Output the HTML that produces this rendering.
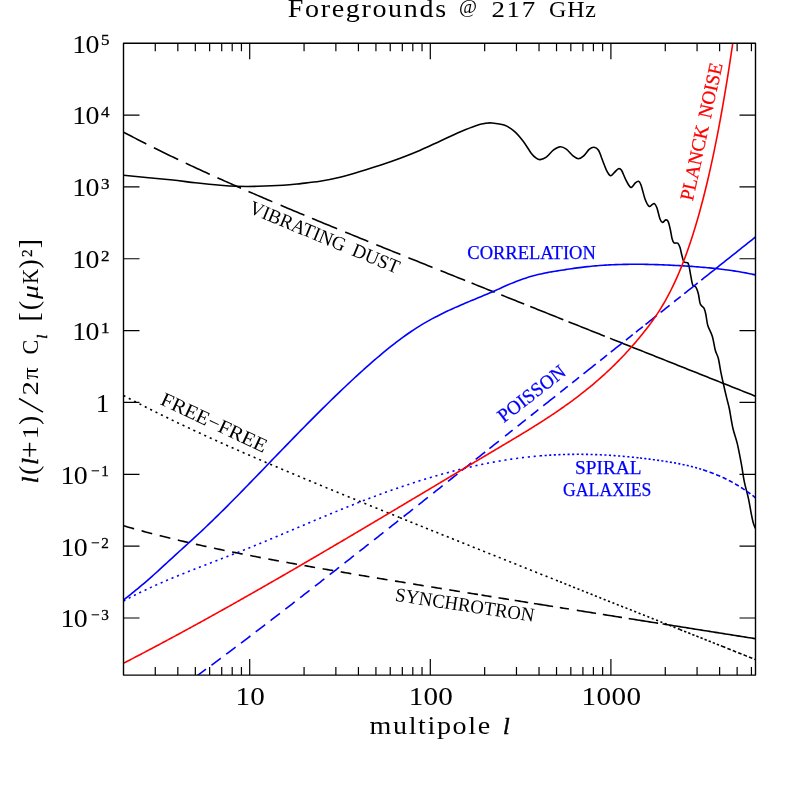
<!DOCTYPE html>
<html><head><meta charset="utf-8"><title>Foregrounds @ 217 GHz</title>
<style>
html,body{margin:0;padding:0;background:#fff;}
body{width:797px;height:797px;overflow:hidden;}
svg{display:block;transform:translateZ(0);will-change:transform;}
text{font-family:"Liberation Serif",serif;fill:#000;}
.t24{font-size:24px;}
.t14{font-size:14.5px;}
.t25{font-size:24.7px;}
.t15{font-size:15.2px;}
.lb{font-size:19.5px;stroke-width:0.25px;}
.lb.bl{stroke:#0000ff;}.lb.rd{stroke:#ff0000;}.lb.bk{stroke:#000;}
.bl{fill:#0000ff;}
.rd{fill:#ff0000;}
.it{font-style:italic;}
.bi{font-style:italic;stroke:#000;stroke-width:0.45px;}
.t28{font-size:28px;}
.sb{stroke:#000;stroke-width:0.3px;}
path{fill:none;stroke-linecap:butt;stroke-linejoin:round;}
</style></head><body>
<svg width="797" height="797" viewBox="0 0 797 797">
<rect width="797" height="797" fill="#fff"/>
<!-- title -->
<text transform="translate(287.70,17.00) scale(1.170,1.06)" class="t24" textLength="135.38" lengthAdjust="spacing">Foregrounds</text>
<text transform="translate(467.9,13.3) scale(1.05,1)" text-anchor="middle" style="font-size:18.6px">@</text>
<text transform="translate(491.40,17.00) scale(1.120,1)" class="t24" textLength="39.11" lengthAdjust="spacing">217</text>
<text transform="translate(549.00,17.00) scale(1.000,1)" class="t24" textLength="47.00" lengthAdjust="spacing">GHz</text>
<!-- curves -->
<defs><clipPath id="cp"><rect x="123.5" y="43.2" width="632" height="631.9"/></clipPath></defs>
<g stroke-width="1.6" clip-path="url(#cp)">
<path d="M123.50 175.30 C131.28 176.05 158.23 178.55 170.20 179.80 C182.17 181.05 186.93 181.88 195.30 182.80 C203.67 183.72 213.50 184.72 220.40 185.30 C227.30 185.88 230.43 186.13 236.70 186.30 C242.97 186.47 250.27 186.47 258.00 186.30 C265.73 186.13 275.98 185.75 283.10 185.30 C290.22 184.85 294.55 184.27 300.70 183.60 C306.85 182.93 313.45 182.35 320.00 181.30 C326.55 180.25 333.32 178.93 340.00 177.30 C346.68 175.67 353.40 173.52 360.10 171.50 C366.80 169.48 373.52 167.42 380.20 165.20 C386.88 162.98 393.52 160.70 400.20 158.20 C406.88 155.70 413.60 153.08 420.30 150.20 C427.00 147.32 433.70 143.98 440.40 140.90 C447.10 137.82 454.48 134.28 460.50 131.70 C466.52 129.12 472.42 126.78 476.50 125.40 C480.58 124.02 482.42 123.80 485.00 123.40 C487.58 123.00 488.82 122.72 492.00 123.00 C495.18 123.28 500.42 123.75 504.10 125.10 C507.78 126.45 510.92 128.42 514.10 131.10 C517.28 133.78 520.35 137.52 523.20 141.20 C526.05 144.88 529.03 150.37 531.20 153.20 C533.37 156.03 534.70 157.13 536.20 158.20 C537.70 159.27 538.52 159.77 540.20 159.60 C541.88 159.43 544.12 158.77 546.30 157.20 C548.48 155.63 550.97 151.93 553.30 150.20 C555.63 148.47 558.13 146.97 560.30 146.80 C562.47 146.63 564.12 147.63 566.30 149.20 C568.48 150.77 571.38 154.60 573.40 156.20 C575.42 157.80 576.73 158.80 578.40 158.80 C580.07 158.80 581.57 157.80 583.40 156.20 C585.23 154.60 587.63 150.70 589.40 149.20 C591.17 147.70 592.48 147.03 594.00 147.20 C595.52 147.37 597.08 148.03 598.50 150.20 C599.92 152.37 601.17 156.85 602.50 160.20 C603.83 163.55 605.17 167.72 606.50 170.30 C607.83 172.88 609.17 175.37 610.50 175.70 C611.83 176.03 613.17 173.47 614.50 172.30 C615.83 171.13 617.33 169.03 618.50 168.70 C619.67 168.37 620.32 168.53 621.50 170.30 C622.68 172.07 624.25 176.63 625.60 179.30 C626.95 181.97 628.60 184.97 629.60 186.30 C630.60 187.63 630.60 187.90 631.60 187.30 C632.60 186.70 634.43 183.70 635.60 182.70 C636.77 181.70 637.68 180.88 638.60 181.30 C639.52 181.72 640.02 182.22 641.10 185.20 C642.18 188.18 643.77 195.68 645.10 199.20 C646.43 202.72 647.93 205.40 649.10 206.30 C650.27 207.20 651.22 205.05 652.10 204.60 C652.98 204.15 653.60 203.07 654.40 203.60 C655.20 204.13 655.97 205.23 656.90 207.80 C657.83 210.37 659.07 216.57 660.00 219.00 C660.93 221.43 661.55 222.25 662.50 222.40 C663.45 222.55 664.75 220.03 665.70 219.90 C666.65 219.77 667.42 219.92 668.20 221.60 C668.98 223.28 669.75 227.13 670.40 230.00 C671.05 232.87 671.50 236.65 672.10 238.80 C672.70 240.95 673.07 242.17 674.00 242.90 C674.93 243.63 676.70 242.42 677.70 243.20 C678.70 243.98 679.27 245.42 680.00 247.60 C680.73 249.78 681.43 253.90 682.10 256.30 C682.77 258.70 683.05 260.90 684.00 262.00 C684.95 263.10 686.92 261.97 687.80 262.90 C688.68 263.83 688.78 265.35 689.30 267.60 C689.82 269.85 690.32 273.47 690.90 276.40 C691.48 279.33 691.97 283.42 692.80 285.20 C693.63 286.98 694.97 285.63 695.90 287.10 C696.83 288.57 697.67 291.18 698.40 294.00 C699.13 296.82 699.35 301.60 700.30 304.00 C701.25 306.40 703.15 306.52 704.10 308.40 C705.05 310.28 705.38 312.47 706.00 315.30 C706.62 318.13 706.75 321.92 707.80 325.40 C708.85 328.88 711.05 332.05 712.30 336.20 C713.55 340.35 714.30 346.62 715.30 350.30 C716.30 353.98 717.37 354.62 718.30 358.30 C719.23 361.98 720.07 368.22 720.90 372.40 C721.73 376.58 722.40 379.40 723.30 383.40 C724.20 387.40 725.30 392.22 726.30 396.40 C727.30 400.58 728.45 404.48 729.30 408.50 C730.15 412.52 730.72 416.87 731.40 420.50 C732.08 424.13 732.40 426.37 733.40 430.30 C734.40 434.23 736.07 438.45 737.40 444.10 C738.73 449.75 740.23 457.85 741.40 464.20 C742.57 470.55 743.23 476.52 744.40 482.20 C745.57 487.88 747.23 492.93 748.40 498.30 C749.57 503.67 750.57 510.22 751.40 514.40 C752.23 518.58 752.72 521.07 753.40 523.40 C754.08 525.73 755.15 527.57 755.50 528.40" stroke="#000"/>
<path d="M123.50 132.12 L125.50 133.18 L127.50 134.23 L129.50 135.28 L131.50 136.32 L133.50 137.37 L135.50 138.40 L137.50 139.43 L139.50 140.46 L141.50 141.49 L143.50 142.51 L145.50 143.52 L146.30 143.93 M153.90 147.75 L155.50 148.54 L157.50 149.53 L159.50 150.52 L161.50 151.51 L163.50 152.49 L165.50 153.47 L167.50 154.44 L169.50 155.41 L171.50 156.38 L173.50 157.34 L175.50 158.30 L177.50 159.26 L178.20 159.59 M185.70 163.15 L187.50 164.00 L189.50 164.93 L191.50 165.87 L193.50 166.80 L195.50 167.73 L197.50 168.66 L199.50 169.58 L201.50 170.50 L203.50 171.42 L205.50 172.34 L207.50 173.25 L209.50 174.16 L209.80 174.30 M217.40 177.73 L217.50 177.78 L219.50 178.68 L221.50 179.58 L223.50 180.47 L225.50 181.36 L227.50 182.25 L229.50 183.14 L231.50 184.03 L233.50 184.91 L235.50 185.79 L237.50 186.67 L239.50 187.55 L241.00 188.21 M248.50 191.48 L249.50 191.91 L251.50 192.78 L253.50 193.64 L255.50 194.51 L257.50 195.37 L259.50 196.23 L261.50 197.09 L263.50 197.95 L265.50 198.81 L267.50 199.66 L269.50 200.51 L271.50 201.37 L272.30 201.71 M280.60 205.23 L281.50 205.61 L283.50 206.45 L285.50 207.30 L287.50 208.14 L289.50 208.98 L291.50 209.82 L293.50 210.66 L295.50 211.50 L297.50 212.34 L299.50 213.17 L301.50 214.01 L303.50 214.84 L304.40 215.22 M312.00 218.38 L313.50 219.00 L315.50 219.83 L317.50 220.66 L319.50 221.49 L321.50 222.31 L323.50 223.14 L325.50 223.96 L327.50 224.79 L329.50 225.61 L331.50 226.43 L333.50 227.26 L335.50 228.08 L337.10 228.74 M345.20 232.06 L345.50 232.18 L347.50 233.00 L349.50 233.81 L351.50 234.63 L353.50 235.45 L355.50 236.26 L357.50 237.08 L359.50 237.89 L361.50 238.71 L363.50 239.52 L365.50 240.34 L367.50 241.15 L368.30 241.48 M376.30 244.72 L377.50 245.21 L379.50 246.02 L381.50 246.83 L383.50 247.64 L385.50 248.45 L387.50 249.26 L389.50 250.07 L391.50 250.88 L393.50 251.69 L395.50 252.49 L397.50 253.30 L399.50 254.11 L400.40 254.47 M408.40 257.70 L409.50 258.14 L411.50 258.95 L413.50 259.75 L415.50 260.56 L417.50 261.36 L419.50 262.17 L421.50 262.97 L423.50 263.78 L425.50 264.58 L427.50 265.39 L429.50 266.19 L431.50 266.99 L432.50 267.40 M440.50 270.61 L441.50 271.01 L443.50 271.81 L445.50 272.61 L447.50 273.42 L449.50 274.22 L451.50 275.02 L453.50 275.82 L455.50 276.62 L457.50 277.42 L459.50 278.22 L461.50 279.03 L463.50 279.83 L465.10 280.47 M471.60 283.07 L473.50 283.83 L475.50 284.63 L477.50 285.43 L479.50 286.23 L481.50 287.03 L483.50 287.83 L485.50 288.63 L487.50 289.43 L489.50 290.23 L491.50 291.03 L493.50 291.83 L494.70 292.31 M501.20 294.90 L501.50 295.02 L503.50 295.82 L505.50 296.62 L507.50 297.42 L509.50 298.22 L511.50 299.02 L513.50 299.81 L515.50 300.61 L517.50 301.41 L519.50 302.21 L521.50 303.01 L523.50 303.81 L524.20 304.09 M530.20 306.48 L531.50 307.00 L533.50 307.80 L535.50 308.59 L537.50 309.39 L539.50 310.19 L541.50 310.99 L543.50 311.78 L545.50 312.58 L547.50 313.38 L549.50 314.18 L551.50 314.97 L553.50 315.77 L555.50 316.57 L557.50 317.37 L559.50 318.16 L561.50 318.96 L563.30 319.68 M568.50 321.75 L569.50 322.15 L571.50 322.95 L573.50 323.74 L575.50 324.54 L577.50 325.34 L579.50 326.13 L581.50 326.93 L583.50 327.73 L585.50 328.52 L587.50 329.32 L589.50 330.12 L591.50 330.91 L593.50 331.71 L595.50 332.51 L597.50 333.30 L599.50 334.10 L601.50 334.90 L603.50 335.69 L604.80 336.21 M610.10 338.32 L611.50 338.88 L613.50 339.68 L615.50 340.47 L617.50 341.27 L619.50 342.07 L621.50 342.86 L623.50 343.66 L625.50 344.45 L627.50 345.25 L629.50 346.05 L631.50 346.84 L633.50 347.64 L635.50 348.44 L637.50 349.23 L639.50 350.03 L641.50 350.83 L643.50 351.62 L645.50 352.42 L647.50 353.21 L649.50 354.01 L651.50 354.81 L653.50 355.60 L655.50 356.40 L657.50 357.19 L659.50 357.99 L661.50 358.79 L663.50 359.58 L665.50 360.38 L667.50 361.17 L669.50 361.97 L671.50 362.77 L673.50 363.56 L675.50 364.36 L677.50 365.16 L679.50 365.95 L681.50 366.75 L683.50 367.54 L685.50 368.34 L687.50 369.14 L689.50 369.93 L691.50 370.73 L693.50 371.52 L695.50 372.32 L697.50 373.11 L699.50 373.91 L701.50 374.71 L703.50 375.50 L705.50 376.30 L707.50 377.09 L709.50 377.89 L711.50 378.69 L713.50 379.48 L715.50 380.28 L717.50 381.07 L719.50 381.87 L721.50 382.67 L723.50 383.46 L725.50 384.26 L727.50 385.05 L729.50 385.85 L731.50 386.65 L733.50 387.44 L735.50 388.24 L737.50 389.03 L739.50 389.83 L741.50 390.62 L743.50 391.42 L745.50 392.22 L747.50 393.01 L749.50 393.81 L751.50 394.60 L753.50 395.40 L755.50 396.20 " stroke="#000"/>
<path d="M123.50 525.75 L125.50 526.33 L127.50 526.91 L129.50 527.48 L131.50 528.05 L133.50 528.61 L134.10 528.78 M141.60 530.85 L143.50 531.36 L145.50 531.90 L147.50 532.43 L149.50 532.96 L151.50 533.49 L152.20 533.67 M159.70 535.60 L161.50 536.06 L163.50 536.56 L165.50 537.06 L167.50 537.55 L169.50 538.05 L170.30 538.24 M177.80 540.05 L179.50 540.46 L181.50 540.93 L183.50 541.40 L185.50 541.86 L187.50 542.33 L188.40 542.53 M195.90 544.24 L197.50 544.60 L199.50 545.04 L201.50 545.49 L203.50 545.93 L205.50 546.36 L206.50 546.58 M214.00 548.20 L215.50 548.51 L217.50 548.94 L219.50 549.36 L221.50 549.78 L223.50 550.19 L224.60 550.42 M232.10 551.96 L233.50 552.24 L235.50 552.64 L237.50 553.05 L239.50 553.45 L241.50 553.84 L242.70 554.08 M250.20 555.55 L251.50 555.81 L253.50 556.19 L255.50 556.58 L257.50 556.96 L259.50 557.35 L260.80 557.59 M268.30 559.01 L269.50 559.24 L271.50 559.61 L273.50 559.98 L275.50 560.36 L277.50 560.73 L278.90 560.98 M286.40 562.36 L287.50 562.56 L289.50 562.92 L291.50 563.28 L293.50 563.64 L295.50 564.00 L297.00 564.27 M304.50 565.61 L305.50 565.79 L307.50 566.14 L309.50 566.50 L311.50 566.85 L313.50 567.20 L315.10 567.48 M322.60 568.79 L323.50 568.95 L325.50 569.29 L327.50 569.64 L329.50 569.99 L331.50 570.33 L333.20 570.62 M340.70 571.91 L341.50 572.04 L343.50 572.39 L345.50 572.73 L347.50 573.07 L349.50 573.41 L351.30 573.71 M358.80 574.98 L359.50 575.09 L361.50 575.43 L363.50 575.77 L365.50 576.10 L367.50 576.44 L369.40 576.75 M376.90 578.01 L377.50 578.11 L379.50 578.44 L381.50 578.77 L383.50 579.10 L385.50 579.43 L387.50 579.76 L387.50 579.76 M395.00 581.00 L395.50 581.09 L397.50 581.41 L399.50 581.74 L401.50 582.07 L403.50 582.40 L405.50 582.73 L405.60 582.75 M413.10 583.97 L413.50 584.04 L415.50 584.37 L417.50 584.69 L419.50 585.02 L421.50 585.35 L423.50 585.67 L423.70 585.71 M431.20 586.93 L431.50 586.98 L433.50 587.30 L435.50 587.63 L437.50 587.95 L439.50 588.27 L441.50 588.60 L441.80 588.65 M449.30 589.86 L449.50 589.89 L451.50 590.22 L453.50 590.54 L455.50 590.86 L457.50 591.19 L459.50 591.51 L459.90 591.58 M467.40 592.78 L467.50 592.80 L469.50 593.12 L471.50 593.45 L473.50 593.77 L475.50 594.09 L477.50 594.41 L478.00 594.49 M481.50 595.05 L483.50 595.38 L485.50 595.70 L487.50 596.02 L489.50 596.34 L491.50 596.66 M498.50 597.78 L499.50 597.94 L501.50 598.26 L503.50 598.59 L505.50 598.91 L507.50 599.23 L509.00 599.47 M514.70 600.38 L515.50 600.51 L517.50 600.83 L519.50 601.15 L521.50 601.47 L523.50 601.79 L525.50 602.11 L527.50 602.43 L528.20 602.54 M533.90 603.45 L535.50 603.70 L537.50 604.02 L539.50 604.34 L541.50 604.66 L543.50 604.98 L545.50 605.30 L547.50 605.62 L549.50 605.94 L551.50 606.26 L553.10 606.51 M559.80 607.58 L561.50 607.85 L563.50 608.17 L565.50 608.49 L567.50 608.81 L568.90 609.03 M576.80 610.29 L577.50 610.40 L579.50 610.72 L581.50 611.04 L583.50 611.36 L585.50 611.68 L587.50 612.00 L589.50 612.31 L591.50 612.63 L593.50 612.95 L595.50 613.27 L596.00 613.35 M602.80 614.43 L603.50 614.54 L605.50 614.86 L607.50 615.18 L609.50 615.50 L611.50 615.82 L613.50 616.13 L615.50 616.45 L617.50 616.77 L619.50 617.09 L621.50 617.41 L622.00 617.49 M628.70 618.55 L629.50 618.68 L631.50 619.00 L633.50 619.32 L635.50 619.63 L637.50 619.95 L639.50 620.27 L641.50 620.59 L643.50 620.91 L645.50 621.22 L647.50 621.54 L649.50 621.86 L651.50 622.18 L653.50 622.49 L655.50 622.81 L657.50 623.13 L658.10 623.23 M662.60 623.94 L663.50 624.08 L665.50 624.40 L667.50 624.72 L669.50 625.04 L671.50 625.35 L673.50 625.67 L675.50 625.99 L677.50 626.31 L679.50 626.63 L681.50 626.94 L683.50 627.26 L685.50 627.58 L687.50 627.90 L689.50 628.21 L691.50 628.53 L693.50 628.85 L695.50 629.17 L697.50 629.49 L699.50 629.80 L701.50 630.12 L703.50 630.44 L705.50 630.76 L707.50 631.07 L709.50 631.39 L711.50 631.71 L713.50 632.03 L715.50 632.34 L717.50 632.66 L719.50 632.98 L721.50 633.30 L723.50 633.61 L725.50 633.93 L727.50 634.25 L729.50 634.57 L731.50 634.88 L733.50 635.20 L735.50 635.52 L737.50 635.84 L739.50 636.15 L741.50 636.47 L743.50 636.79 L745.50 637.11 L747.50 637.42 L749.50 637.74 L751.50 638.06 L753.50 638.38 L755.50 638.70 " stroke="#000"/>
<path d="M123.50 395.52 L125.50 396.58 L127.50 397.63 L129.50 398.68 L131.50 399.72 L133.50 400.77 L135.50 401.80 L137.50 402.83 L139.50 403.86 L141.50 404.89 L143.50 405.91 L145.50 406.92 L147.50 407.93 L149.50 408.94 L151.50 409.95 L153.50 410.95 L155.50 411.94 L157.50 412.93 L159.50 413.92 L161.50 414.91 L163.50 415.89 L165.50 416.87 L167.50 417.84 L169.50 418.81 L171.50 419.78 L173.50 420.74 L175.50 421.70 L177.50 422.66 L179.50 423.61 L181.50 424.56 L183.50 425.51 L185.50 426.45 L187.50 427.40 L189.50 428.33 L191.50 429.27 L193.50 430.20 L195.50 431.13 L197.50 432.06 L199.50 432.98 L201.50 433.90 L203.50 434.82 L205.50 435.74 L207.50 436.65 L209.50 437.56 L211.50 438.47 L213.50 439.38 L215.50 440.28 L217.50 441.18 L219.50 442.08 L221.50 442.98 L223.50 443.87 L225.50 444.76 L227.50 445.65 L229.50 446.54 L231.50 447.43 L233.50 448.31 L235.50 449.19 L237.50 450.07 L239.50 450.95 L241.50 451.82 L243.50 452.70 L245.50 453.57 L247.50 454.44 L249.50 455.31 L251.50 456.18 L253.50 457.04 L255.50 457.91 L257.50 458.77 L259.50 459.63 L261.50 460.49 L263.50 461.35 L265.50 462.21 L267.50 463.06 L269.50 463.91 L271.50 464.77 L273.50 465.62 L275.50 466.47 L277.50 467.32 L279.50 468.16 L281.50 469.01 L283.50 469.85 L285.50 470.70 L287.50 471.54 L289.50 472.38 L291.50 473.22 L293.50 474.06 L295.50 474.90 L297.50 475.74 L299.50 476.57 L301.50 477.41 L303.50 478.24 L305.50 479.08 L307.50 479.91 L309.50 480.74 L311.50 481.57 L313.50 482.40 L315.50 483.23 L317.50 484.06 L319.50 484.89 L321.50 485.71 L323.50 486.54 L325.50 487.36 L327.50 488.19 L329.50 489.01 L331.50 489.83 L333.50 490.66 L335.50 491.48 L337.50 492.30 L339.50 493.12 L341.50 493.94 L343.50 494.76 L345.50 495.58 L347.50 496.40 L349.50 497.21 L351.50 498.03 L353.50 498.85 L355.50 499.66 L357.50 500.48 L359.50 501.29 L361.50 502.11 L363.50 502.92 L365.50 503.74 L367.50 504.55 L369.50 505.36 L371.50 506.18 L373.50 506.99 L375.50 507.80 L377.50 508.61 L379.50 509.42 L381.50 510.23 L383.50 511.04 L385.50 511.85 L387.50 512.66 L389.50 513.47 L391.50 514.28 L393.50 515.09 L395.50 515.89 L397.50 516.70 L399.50 517.51 L400.00 517.71" stroke="#000" stroke-dasharray="2.1 3.9"/>
<path d="M400.00 517.71 L401.50 518.32 L403.50 519.12 L405.50 519.93 L407.50 520.74 L409.50 521.54 L411.50 522.35 L413.50 523.15 L415.50 523.96 L417.50 524.76 L419.50 525.57 L421.50 526.37 L423.50 527.18 L425.50 527.98 L427.50 528.79 L429.50 529.59 L431.50 530.39 L433.50 531.20 L435.50 532.00 L437.50 532.80 L439.50 533.61 L441.50 534.41 L443.50 535.21 L445.50 536.01 L447.50 536.82 L449.50 537.62 L451.50 538.42 L453.50 539.22 L455.50 540.02 L457.50 540.82 L459.50 541.62 L461.50 542.43 L463.50 543.23 L465.50 544.03 L467.50 544.83 L469.50 545.63 L471.50 546.43 L473.50 547.23 L475.50 548.03 L477.50 548.83 L479.50 549.63 L481.50 550.43 L483.50 551.23 L485.50 552.03 L487.50 552.83 L489.50 553.63 L491.50 554.43 L493.50 555.23 L495.50 556.03 L497.50 556.82 L499.50 557.62 L501.50 558.42 L503.50 559.22 L505.50 560.02 L507.50 560.82 L509.50 561.62 L511.50 562.42 L513.50 563.21 L515.50 564.01 L517.50 564.81 L519.50 565.61 L521.50 566.41 L523.50 567.21 L525.50 568.00 L527.50 568.80 L529.50 569.60 L531.50 570.40 L533.50 571.20 L535.50 571.99 L537.50 572.79 L539.50 573.59 L541.50 574.39 L543.50 575.18 L545.50 575.98 L547.50 576.78 L549.50 577.58 L551.50 578.37 L553.50 579.17 L555.50 579.97 L557.50 580.77 L559.50 581.56 L560.00 581.76" stroke="#000" stroke-dasharray="2.1 3.5"/>
<path d="M560.00 581.76 L561.50 582.36 L563.50 583.16 L565.50 583.95 L567.50 584.75 L569.50 585.55 L571.50 586.35 L573.50 587.14 L575.50 587.94 L577.50 588.74 L579.50 589.53 L581.50 590.33 L583.50 591.13 L585.50 591.92 L587.50 592.72 L589.50 593.52 L591.50 594.31 L593.50 595.11 L595.50 595.91 L597.50 596.70 L599.50 597.50 L601.50 598.30 L603.50 599.09 L605.50 599.89 L607.50 600.69 L609.50 601.48 L611.50 602.28 L613.50 603.08 L615.50 603.87 L617.50 604.67 L619.50 605.47 L621.50 606.26 L623.50 607.06 L625.50 607.85 L627.50 608.65 L629.50 609.45 L631.50 610.24 L633.50 611.04 L635.50 611.84 L637.50 612.63 L639.50 613.43 L641.50 614.23 L643.50 615.02 L645.50 615.82 L647.50 616.61 L649.50 617.41 L651.50 618.21 L653.50 619.00 L655.50 619.80 L657.50 620.59 L659.50 621.39 L661.50 622.19 L663.50 622.98 L665.50 623.78 L667.50 624.57 L669.50 625.37 L671.50 626.17 L673.50 626.96 L675.50 627.76 L677.50 628.56 L679.50 629.35 L680.00 629.55" stroke="#000" stroke-dasharray="2.1 2.6"/>
<path d="M680.00 629.55 L681.50 630.15 L683.50 630.94 L685.50 631.74 L687.50 632.54 L689.50 633.33 L691.50 634.13 L693.50 634.92 L695.50 635.72 L697.50 636.51 L699.50 637.31 L701.50 638.11 L703.50 638.90 L705.50 639.70 L707.50 640.49 L709.50 641.29 L711.50 642.09 L713.50 642.88 L715.50 643.68 L717.50 644.47 L719.50 645.27 L721.50 646.07 L722.00 646.26" stroke="#000" stroke-dasharray="2.4 2.0"/>
<path d="M722.00 646.26 L723.50 646.86 L725.50 647.66 L727.50 648.45 L729.50 649.25 L731.50 650.05 L733.50 650.84 L735.50 651.64 L737.50 652.43 L739.50 653.23 L741.50 654.02 L743.50 654.82 L745.50 655.62 L747.50 656.41 L749.50 657.21 L751.50 658.00 L753.50 658.80 L755.50 659.60" stroke="#000" stroke-dasharray="3.6 2.2"/>

<path d="M123.50 599.93 C124.17 599.42 126.17 597.90 127.50 596.86 C128.83 595.82 130.17 594.77 131.50 593.71 C132.83 592.64 134.17 591.56 135.50 590.48 C136.83 589.39 138.17 588.29 139.50 587.17 C140.83 586.06 142.17 584.93 143.50 583.80 C144.83 582.66 146.17 581.51 147.50 580.35 C148.83 579.19 150.17 578.02 151.50 576.83 C152.83 575.65 154.17 574.46 155.50 573.25 C156.83 572.05 158.17 570.83 159.50 569.61 C160.83 568.39 162.17 567.16 163.50 565.93 C164.83 564.70 166.17 563.47 167.50 562.24 C168.83 561.02 170.17 559.79 171.50 558.57 C172.83 557.35 174.17 556.13 175.50 554.92 C176.83 553.70 178.17 552.49 179.50 551.28 C180.83 550.07 182.17 548.86 183.50 547.65 C184.83 546.44 186.17 545.23 187.50 544.02 C188.83 542.80 190.17 541.59 191.50 540.37 C192.83 539.15 194.17 537.92 195.50 536.69 C196.83 535.46 198.17 534.23 199.50 532.98 C200.83 531.74 202.17 530.49 203.50 529.23 C204.83 527.97 206.17 526.70 207.50 525.42 C208.83 524.15 210.17 522.87 211.50 521.58 C212.83 520.29 214.17 518.99 215.50 517.69 C216.83 516.39 218.17 515.08 219.50 513.77 C220.83 512.45 222.17 511.13 223.50 509.81 C224.83 508.48 226.17 507.15 227.50 505.82 C228.83 504.48 230.17 503.14 231.50 501.80 C232.83 500.46 234.17 499.11 235.50 497.75 C236.83 496.40 238.17 495.05 239.50 493.69 C240.83 492.33 242.17 490.96 243.50 489.60 C244.83 488.23 246.17 486.86 247.50 485.49 C248.83 484.12 250.17 482.74 251.50 481.37 C252.83 479.99 254.17 478.62 255.50 477.24 C256.83 475.86 258.17 474.48 259.50 473.09 C260.83 471.71 262.17 470.33 263.50 468.94 C264.83 467.56 266.17 466.18 267.50 464.79 C268.83 463.41 270.17 462.02 271.50 460.64 C272.83 459.26 274.17 457.87 275.50 456.49 C276.83 455.11 278.17 453.72 279.50 452.34 C280.83 450.96 282.17 449.58 283.50 448.21 C284.83 446.83 286.17 445.45 287.50 444.08 C288.83 442.70 290.17 441.33 291.50 439.96 C292.83 438.59 294.17 437.22 295.50 435.86 C296.83 434.49 298.17 433.13 299.50 431.77 C300.83 430.41 302.17 429.05 303.50 427.70 C304.83 426.34 306.17 424.99 307.50 423.64 C308.83 422.29 310.17 420.95 311.50 419.61 C312.83 418.27 314.17 416.93 315.50 415.59 C316.83 414.26 318.17 412.93 319.50 411.60 C320.83 410.28 322.17 408.96 323.50 407.64 C324.83 406.32 326.17 405.01 327.50 403.70 C328.83 402.40 330.17 401.09 331.50 399.79 C332.83 398.50 334.17 397.20 335.50 395.91 C336.83 394.63 338.17 393.34 339.50 392.07 C340.83 390.79 342.17 389.52 343.50 388.25 C344.83 386.99 346.17 385.73 347.50 384.48 C348.83 383.22 350.17 381.97 351.50 380.73 C352.83 379.49 354.17 378.26 355.50 377.03 C356.83 375.80 358.17 374.58 359.50 373.37 C360.83 372.15 362.17 370.95 363.50 369.75 C364.83 368.55 366.17 367.36 367.50 366.17 C368.83 364.99 370.17 363.82 371.50 362.65 C372.83 361.49 374.17 360.33 375.50 359.19 C376.83 358.04 378.17 356.90 379.50 355.78 C380.83 354.65 382.17 353.54 383.50 352.44 C384.83 351.34 386.17 350.24 387.50 349.17 C388.83 348.09 390.17 347.02 391.50 345.97 C392.83 344.92 394.17 343.88 395.50 342.85 C396.83 341.83 398.17 340.82 399.50 339.82 C400.83 338.82 402.17 337.84 403.50 336.88 C404.83 335.91 406.17 334.96 407.50 334.03 C408.83 333.09 410.17 332.17 411.50 331.27 C412.83 330.37 414.17 329.49 415.50 328.62 C416.83 327.76 418.17 326.91 419.50 326.08 C420.83 325.25 422.17 324.44 423.50 323.65 C424.83 322.86 426.17 322.09 427.50 321.33 C428.83 320.57 430.17 319.83 431.50 319.10 C432.83 318.38 434.17 317.67 435.50 316.97 C436.83 316.27 438.17 315.59 439.50 314.92 C440.83 314.25 442.17 313.59 443.50 312.94 C444.83 312.29 446.17 311.66 447.50 311.03 C448.83 310.41 450.17 309.79 451.50 309.19 C452.83 308.58 454.17 307.98 455.50 307.39 C456.83 306.80 458.17 306.22 459.50 305.65 C460.83 305.07 462.17 304.50 463.50 303.93 C464.83 303.37 466.17 302.81 467.50 302.25 C468.83 301.69 470.17 301.14 471.50 300.59 C472.83 300.03 474.17 299.48 475.50 298.93 C476.83 298.38 478.17 297.83 479.50 297.28 C480.83 296.72 482.17 296.17 483.50 295.61 C484.83 295.05 486.17 294.49 487.50 293.92 C488.83 293.35 490.17 292.78 491.50 292.20 C492.83 291.62 494.17 291.03 495.50 290.44 C496.83 289.85 498.17 289.25 499.50 288.65 C500.83 288.05 502.17 287.45 503.50 286.85 C504.83 286.26 506.17 285.66 507.50 285.08 C508.83 284.50 510.17 283.93 511.50 283.37 C512.83 282.81 514.17 282.27 515.50 281.74 C516.83 281.22 518.17 280.71 519.50 280.21 C520.83 279.72 522.17 279.24 523.50 278.78 C524.83 278.33 526.17 277.89 527.50 277.47 C528.83 277.06 530.17 276.66 531.50 276.28 C532.83 275.91 534.17 275.56 535.50 275.22 C536.83 274.88 538.17 274.57 539.50 274.26 C540.83 273.96 542.17 273.68 543.50 273.40 C544.83 273.13 546.17 272.87 547.50 272.62 C548.83 272.36 550.17 272.13 551.50 271.89 C552.83 271.66 554.17 271.43 555.50 271.21 C556.83 270.99 558.17 270.77 559.50 270.56 C560.83 270.34 562.17 270.13 563.50 269.92 C564.83 269.71 566.17 269.50 567.50 269.30 C568.83 269.09 570.17 268.89 571.50 268.69 C572.83 268.50 574.17 268.31 575.50 268.12 C576.83 267.94 578.17 267.76 579.50 267.59 C580.83 267.42 582.17 267.25 583.50 267.10 C584.83 266.94 586.17 266.79 587.50 266.65 C588.83 266.51 590.17 266.37 591.50 266.25 C592.83 266.12 594.17 266.00 595.50 265.88 C596.83 265.77 598.17 265.66 599.50 265.56 C600.83 265.46 602.17 265.36 603.50 265.28 C604.83 265.19 606.17 265.11 607.50 265.03 C608.83 264.95 610.17 264.88 611.50 264.82 C612.83 264.76 614.17 264.70 615.50 264.65 C616.83 264.59 618.17 264.55 619.50 264.51 C620.83 264.47 622.17 264.43 623.50 264.40 C624.83 264.37 626.17 264.35 627.50 264.33 C628.83 264.31 630.17 264.29 631.50 264.28 C632.83 264.27 634.17 264.27 635.50 264.26 C636.83 264.26 638.17 264.27 639.50 264.28 C640.83 264.29 642.17 264.30 643.50 264.32 C644.83 264.33 646.17 264.35 647.50 264.38 C648.83 264.41 650.17 264.44 651.50 264.47 C652.83 264.50 654.17 264.54 655.50 264.58 C656.83 264.62 658.17 264.67 659.50 264.71 C660.83 264.76 662.17 264.81 663.50 264.87 C664.83 264.92 666.17 264.98 667.50 265.04 C668.83 265.10 670.17 265.17 671.50 265.23 C672.83 265.30 674.17 265.37 675.50 265.44 C676.83 265.51 678.17 265.59 679.50 265.66 C680.83 265.74 682.17 265.82 683.50 265.90 C684.83 265.98 686.17 266.07 687.50 266.16 C688.83 266.24 690.17 266.33 691.50 266.42 C692.83 266.52 694.17 266.61 695.50 266.71 C696.83 266.81 698.17 266.92 699.50 267.02 C700.83 267.13 702.17 267.24 703.50 267.36 C704.83 267.47 706.17 267.59 707.50 267.71 C708.83 267.84 710.17 267.97 711.50 268.10 C712.83 268.24 714.17 268.37 715.50 268.52 C716.83 268.66 718.17 268.81 719.50 268.97 C720.83 269.13 722.17 269.29 723.50 269.46 C724.83 269.62 726.17 269.80 727.50 269.98 C728.83 270.16 730.17 270.35 731.50 270.54 C732.83 270.74 734.17 270.94 735.50 271.15 C736.83 271.36 738.17 271.57 739.50 271.80 C740.83 272.02 742.17 272.26 743.50 272.50 C744.83 272.74 746.17 272.99 747.50 273.24 C748.83 273.50 750.17 273.77 751.50 274.04 C752.83 274.32 754.83 274.75 755.50 274.89" stroke="#0000ff"/>
<path d="M196.60 676.10 L198.00 675.08 L200.00 673.61 L202.00 672.15 L204.00 670.68 L206.00 669.21 M211.39 665.23 L212.00 664.78 L214.00 663.29 L216.00 661.81 L218.00 660.32 L220.00 658.83 L220.79 658.24 M226.18 654.22 L228.00 652.86 L230.00 651.36 L232.00 649.85 L234.00 648.35 L235.58 647.16 M240.97 643.10 L242.00 642.32 L244.00 640.80 L246.00 639.29 L248.00 637.77 L250.00 636.25 L250.37 635.97 M255.76 631.87 L256.00 631.69 L258.00 630.16 L260.00 628.64 L262.00 627.11 L264.00 625.58 L265.16 624.69 M270.55 620.56 L272.00 619.45 L274.00 617.91 L276.00 616.37 L278.00 614.83 L279.95 613.33 M285.34 609.18 L286.00 608.67 L288.00 607.12 L290.00 605.58 L292.00 604.03 L294.00 602.48 L294.74 601.91 M300.13 597.73 L302.00 596.28 L304.00 594.73 L306.00 593.17 L308.00 591.62 L309.53 590.43 M314.92 586.23 L316.00 585.39 L318.00 583.83 L320.00 582.27 L322.00 580.71 L324.00 579.15 L324.32 578.90 M329.71 574.69 L330.00 574.46 L332.00 572.90 L334.00 571.33 L336.00 569.77 L338.00 568.20 L339.11 567.33 M344.50 563.11 L346.00 561.93 L348.00 560.36 L350.00 558.79 L352.00 557.22 L353.90 555.73 M359.29 551.49 L360.00 550.94 L362.00 549.36 L364.00 547.79 L366.00 546.22 L368.00 544.64 L368.69 544.10 M374.08 539.86 L376.00 538.34 L378.00 536.77 L380.00 535.19 L382.00 533.61 L383.48 532.45 M388.87 528.20 L390.00 527.30 L392.00 525.73 L394.00 524.15 L396.00 522.57 L398.00 520.99 L398.27 520.78 M403.66 516.52 L404.00 516.25 L406.00 514.67 L408.00 513.09 L410.00 511.51 L412.00 509.92 L413.06 509.09 M418.45 504.82 L420.00 503.60 L422.00 502.01 L424.00 500.43 L426.00 498.85 L427.85 497.38 M433.24 493.12 L434.00 492.52 L436.00 490.93 L438.00 489.35 L440.00 487.76 L442.00 486.18 L442.64 485.67 M448.03 481.40 L450.00 479.84 L452.00 478.25 L454.00 476.67 L456.00 475.08 L457.43 473.95 M462.00 470.32 L464.00 468.74 L466.00 467.15 L468.00 465.57 L470.00 463.98 L471.40 462.87 M475.70 459.46 L476.00 459.22 L478.00 457.63 L480.00 456.04 L482.00 454.46 L484.00 452.87 L485.10 452.00 M489.40 448.58 L490.00 448.11 L492.00 446.52 L494.00 444.93 L496.00 443.34 L498.00 441.76 L498.80 441.12 M505.10 436.12 L506.00 435.40 L508.00 433.82 L510.00 432.23 L512.00 430.64 L512.60 430.16 M517.60 426.19 L518.00 425.87 L520.00 424.28 L522.00 422.69 L524.00 421.11 L525.80 419.68 M530.80 415.70 L532.00 414.75 L534.00 413.16 L536.00 411.57 L538.00 409.98 L538.30 409.74 M543.30 405.77 L544.00 405.21 L546.00 403.62 L548.00 402.03 L550.00 400.44 L552.00 398.86 L554.00 397.27 L555.20 396.31 M560.30 392.26 L562.00 390.91 L564.00 389.32 L566.00 387.73 L567.80 386.30 M572.20 382.80 L574.00 381.37 L576.00 379.78 L578.00 378.19 L579.10 377.31 M583.50 373.81 L584.00 373.42 L586.00 371.83 L588.00 370.23 L590.00 368.64 L592.00 367.05 L594.00 365.46 L595.80 364.03 M600.20 360.53 L602.00 359.10 L604.00 357.51 L606.00 355.92 L607.10 355.05 M610.80 352.10 L612.00 351.15 L614.00 349.56 L616.00 347.97 L618.00 346.38 L620.00 344.79 L622.00 343.20 L622.70 342.64 M625.90 340.09 L626.00 340.01 L628.00 338.42 L630.00 336.83 L632.00 335.24 L632.80 334.61 M635.90 332.14 L636.00 332.06 L638.00 330.47 L640.00 328.88 L642.00 327.29 L642.80 326.65 M645.50 324.50 L646.00 324.11 L648.00 322.52 L650.00 320.93 L652.00 319.33 L654.00 317.74 L656.00 316.15 L656.50 315.75 M660.60 312.49 L662.00 311.38 L664.00 309.79 L666.00 308.20 L668.00 306.61 L669.60 305.33 M674.10 301.75 L676.00 300.24 L678.00 298.65 L680.00 297.06 L680.70 296.50 M684.20 293.72 L686.00 292.29 L688.00 290.70 L690.00 289.11 L692.00 287.51 L694.00 285.92 L696.00 284.33 L697.70 282.98 M701.20 280.20 L702.00 279.56 L704.00 277.97 L706.00 276.38 L708.00 274.79 L710.00 273.19 L712.00 271.60 L714.00 270.01 L716.00 268.42 L718.00 266.83 L720.00 265.24 L722.00 263.65 L724.00 262.06 L726.00 260.47 L728.00 258.87 L730.00 257.28 L732.00 255.69 L734.00 254.10 L736.00 252.51 L738.00 250.92 L740.00 249.33 L742.00 247.74 L744.00 246.14 L746.00 244.55 L748.00 242.96 L750.00 241.37 L752.00 239.78 L754.00 238.19 L755.50 237.00 " stroke="#0000ff"/>
<path d="M123.50 601.00 L124.50 600.47 L125.50 599.94 L126.50 599.41 L127.50 598.88 L128.50 598.36 L129.50 597.84 L130.50 597.33 L131.50 596.81 L132.50 596.30 L133.50 595.80 L134.50 595.29 L135.50 594.79 L136.50 594.29 L137.50 593.80 L138.50 593.30 L139.50 592.81 L140.50 592.33 L141.50 591.85 L142.50 591.36 L143.50 590.88 L144.50 590.41 L145.50 589.94 L146.50 589.46 L147.50 588.99 L148.50 588.53 L149.50 588.07 L150.50 587.60 L151.50 587.14 L152.50 586.69 L153.50 586.24 L154.50 585.78 L155.50 585.33 L156.50 584.89 L157.50 584.44 L158.50 584.00 L159.50 583.56 L160.50 583.12 L161.50 582.68 L162.50 582.25 L163.50 581.81 L164.50 581.38 L165.50 580.95 L166.50 580.53 L167.50 580.10 L168.50 579.68 L169.50 579.26 L170.50 578.83 L171.50 578.41 L172.50 578.00 L173.50 577.58 L174.50 577.17 L175.50 576.75 L176.50 576.34 L177.50 575.93 L178.50 575.53 L179.50 575.12 L180.50 574.71 L181.50 574.31 L182.50 573.90 L183.50 573.50 L184.50 573.10 L185.50 572.70 L186.50 572.30 L187.50 571.90 L188.50 571.51 L189.50 571.11 L190.50 570.72 L191.50 570.32 L192.50 569.93 L193.50 569.54 L194.50 569.15 L195.50 568.75 L196.50 568.37 L197.50 567.98 L198.50 567.59 L199.50 567.20 L200.50 566.81 L201.50 566.42 L202.50 566.04 L203.50 565.65 L204.50 565.27 L205.50 564.88 L206.50 564.50 L207.50 564.11 L208.50 563.73 L209.50 563.34 L210.50 562.96 L211.50 562.57 L212.50 562.19 L213.50 561.81 L214.50 561.42 L215.50 561.04 L216.50 560.65 L217.50 560.27 L218.50 559.89 L219.50 559.50 L220.50 559.12 L221.50 558.73 L222.50 558.35 L223.50 557.96 L224.50 557.58 L225.50 557.19 L226.50 556.81 L227.50 556.42 L228.50 556.03 L229.50 555.65 L230.50 555.26 L231.50 554.87 L232.50 554.48 L233.50 554.09 L234.50 553.70 L235.50 553.31 L236.50 552.92 L237.50 552.52 L238.50 552.13 L239.50 551.73 L240.50 551.34 L241.50 550.94 L242.50 550.54 L243.50 550.15 L244.50 549.75 L245.50 549.35 L246.50 548.94 L247.50 548.54 L248.50 548.14 L249.50 547.74 L250.50 547.33 L251.50 546.93 L252.50 546.52 L253.50 546.11 L254.50 545.71 L255.50 545.30 L256.50 544.89 L257.50 544.48 L258.50 544.07 L259.50 543.66 L260.50 543.25 L261.50 542.83 L262.50 542.42 L263.50 542.01 L264.50 541.59 L265.50 541.18 L266.50 540.76 L267.50 540.35 L268.50 539.93 L269.50 539.51 L270.50 539.10 L271.50 538.68 L272.50 538.26 L273.50 537.84 L274.50 537.43 L275.50 537.01 L276.50 536.59 L277.50 536.17 L278.50 535.75 L279.50 535.33 L280.50 534.90 L281.50 534.48 L282.50 534.06 L283.50 533.64 L284.50 533.22 L285.50 532.80 L286.50 532.37 L287.50 531.95 L288.50 531.53 L289.50 531.11 L290.50 530.68 L291.50 530.26 L292.50 529.84 L293.50 529.41 L294.50 528.99 L295.50 528.57 L296.50 528.14 L297.50 527.72 L298.50 527.30 L299.50 526.87 L300.50 526.45 L301.50 526.03 L302.50 525.60 L303.50 525.18 L304.50 524.76 L305.50 524.33 L306.50 523.91 L307.50 523.49 L308.50 523.06 L309.50 522.64 L310.50 522.22 L311.50 521.80 L312.50 521.38 L313.50 520.96 L314.50 520.53 L315.50 520.11 L316.50 519.69 L317.50 519.27 L318.50 518.85 L319.50 518.43 L320.50 518.01 L321.50 517.60 L322.50 517.18 L323.50 516.76 L324.50 516.34 L325.50 515.92 L326.50 515.51 L327.50 515.09 L328.50 514.68 L329.50 514.26 L330.50 513.85 L331.50 513.43 L332.50 513.02 L333.50 512.61 L334.50 512.20 L335.50 511.78 L336.50 511.37 L337.50 510.96 L338.50 510.55 L339.50 510.14 L340.50 509.74 L341.50 509.33 L342.50 508.92 L343.50 508.52 L344.50 508.11 L345.50 507.71 L346.50 507.30 L347.50 506.90 L348.50 506.50 L349.50 506.10 L350.50 505.70 L351.50 505.30 L352.50 504.90 L353.50 504.50 L354.50 504.11 L355.50 503.71 L356.50 503.32 L357.50 502.92 L358.50 502.53 L359.50 502.14 L360.50 501.75 L361.50 501.36 L362.50 500.97 L363.50 500.58 L364.50 500.20 L365.50 499.82 L366.50 499.43 L367.50 499.05 L368.50 498.67 L369.50 498.29 L370.50 497.91 L371.50 497.53 L372.50 497.15 L373.50 496.78 L374.50 496.40 L375.50 496.03 L376.50 495.66 L377.50 495.29 L378.50 494.91 L379.50 494.54 L380.50 494.18 L381.50 493.81 L382.50 493.45 L383.50 493.08 L384.50 492.72 L385.50 492.36 L386.50 492.00 L387.50 491.64 L388.50 491.28 L389.50 490.93 L390.50 490.57 L391.50 490.21 L392.50 489.86 L393.50 489.51 L394.50 489.16 L395.50 488.81 L396.50 488.47 L397.50 488.12 L398.50 487.78 L399.50 487.43 L400.50 487.09 L401.50 486.75 L402.50 486.41 L403.50 486.07 L404.50 485.74 L405.50 485.40 L406.50 485.07 L407.50 484.73 L408.50 484.40 L409.50 484.07 L410.50 483.74 L411.50 483.42 L412.50 483.09 L413.50 482.77 L414.50 482.45 L415.50 482.12 L416.50 481.81 L417.50 481.49 L418.50 481.17 L419.50 480.85 L420.50 480.54 L421.50 480.23 L422.50 479.92 L423.50 479.61 L424.50 479.30 L425.50 479.00 L426.50 478.69 L427.50 478.39 L428.50 478.09 L429.50 477.79 L430.50 477.49 L431.50 477.19 L432.50 476.90 L433.50 476.60 L434.50 476.31 L435.50 476.02 L436.50 475.73 L437.50 475.45 L438.50 475.16 L439.50 474.87 L440.50 474.59 L441.50 474.31 L442.50 474.03 L443.50 473.75 L444.50 473.48 L445.50 473.21 L446.50 472.93 L447.50 472.66 L448.50 472.39 L449.50 472.13 L450.50 471.86 L451.50 471.59 L452.50 471.33 L453.50 471.07 L454.50 470.81 L455.50 470.55 L456.50 470.30 L457.50 470.05 L458.50 469.80 L459.50 469.54 L460.50 469.30 L461.50 469.05 L462.50 468.81 L463.50 468.56 L464.50 468.32 L465.50 468.08 L466.50 467.85 L467.50 467.61 L468.50 467.38 L469.50 467.14 L470.50 466.91 L471.50 466.68 L472.50 466.46 L473.50 466.24 L474.50 466.01 L475.50 465.79 L476.50 465.57 L477.50 465.36 L478.50 465.14 L479.50 464.92 L480.50 464.71 L481.50 464.51 L482.50 464.30 L483.50 464.09 L484.50 463.89 L485.50 463.69 L486.50 463.49 L487.50 463.29 L488.50 463.09 L489.50 462.90 L490.50 462.71 L491.50 462.52 L492.50 462.33 L493.50 462.15 L494.50 461.96 L495.50 461.78 L496.50 461.60 L497.50 461.42 L498.50 461.25 L499.50 461.07 L500.50 460.90 L501.50 460.73 L502.50 460.56 L503.50 460.40 L504.50 460.24 L505.50 460.08 L506.50 459.91 L507.50 459.76 L508.50 459.60 L509.50 459.45 L510.50 459.30 L511.50 459.15 L512.50 459.01 L513.50 458.86 L514.50 458.72 L515.50 458.58 L516.50 458.44 L517.50 458.31 L518.50 458.17 L519.50 458.04 L520.50 457.91 L521.50 457.79 L522.50 457.66 L523.50 457.54 L524.50 457.42 L525.50 457.30 L526.50 457.19 L527.50 457.07 L528.50 456.96 L529.50 456.85 L530.50 456.75 L531.50 456.64 L532.50 456.54 L533.50 456.44 L534.50 456.34 L535.50 456.24 L536.50 456.16 L537.50 456.07 L538.50 455.98 L539.50 455.89 L540.00 455.85" stroke="#0000ff" stroke-dasharray="2.1 3.8"/>
<path d="M540.00 455.85 L540.50 455.81 L541.50 455.73 L542.50 455.65 L543.50 455.57 L544.50 455.50 L545.50 455.43 L546.50 455.36 L547.50 455.29 L548.50 455.22 L549.50 455.16 L550.50 455.10 L551.50 455.04 L552.50 454.99 L553.50 454.93 L554.50 454.88 L555.50 454.83 L556.50 454.79 L557.50 454.74 L558.50 454.70 L559.50 454.66 L560.50 454.62 L561.50 454.59 L562.50 454.55 L563.50 454.52 L564.50 454.49 L565.50 454.47 L566.50 454.44 L567.50 454.41 L568.50 454.40 L569.50 454.38 L570.50 454.36 L571.50 454.35 L572.50 454.34 L573.50 454.33 L574.50 454.32 L575.50 454.31 L576.50 454.31 L577.50 454.31 L578.50 454.31 L579.50 454.31 L580.50 454.31 L581.50 454.32 L582.50 454.33 L583.50 454.34 L584.50 454.35 L585.50 454.37 L586.50 454.38 L587.50 454.40 L588.50 454.42 L589.50 454.45 L590.50 454.47 L591.50 454.50 L592.50 454.53 L593.50 454.56 L594.50 454.59 L595.50 454.62 L596.50 454.66 L597.50 454.70 L598.50 454.74 L599.50 454.78 L600.50 454.82 L601.50 454.87 L602.50 454.92 L603.50 454.97 L604.50 455.02 L605.50 455.07 L606.50 455.13 L607.50 455.18 L608.50 455.24 L609.50 455.30 L610.50 455.37 L611.50 455.43 L612.50 455.50 L613.50 455.57 L614.50 455.63 L615.50 455.70 L616.50 455.78 L617.50 455.86 L618.50 455.93 L619.50 456.01 L620.50 456.09 L621.50 456.17 L622.50 456.26 L623.50 456.34 L624.50 456.43 L625.50 456.52 L626.50 456.61 L627.50 456.70 L628.50 456.79 L629.50 456.89 L630.50 456.99 L631.50 457.08 L632.50 457.19 L633.50 457.29 L634.50 457.39 L635.50 457.50 L636.50 457.61 L637.50 457.71 L638.50 457.82 L639.50 457.93 L640.00 457.99" stroke="#0000ff" stroke-dasharray="2.1 2.5"/>
<path d="M640.00 457.99 L640.50 458.05 L641.50 458.17 L642.50 458.28 L643.50 458.40 L644.50 458.52 L645.50 458.64 L646.50 458.76 L647.50 458.89 L648.50 459.01 L649.50 459.14 L650.50 459.27 L651.50 459.40 L652.50 459.53 L653.50 459.67 L654.50 459.80 L655.50 459.94 L656.50 460.08 L657.50 460.22 L658.50 460.36 L659.50 460.50 L660.50 460.65 L661.50 460.79 L662.50 460.94 L663.50 461.09 L664.50 461.24 L665.50 461.40 L666.50 461.55 L667.50 461.71 L668.50 461.87 L669.50 462.04 L670.50 462.21 L671.50 462.37 L672.50 462.55 L673.50 462.73 L674.50 462.91 L675.50 463.08 L676.50 463.28 L677.50 463.47 L678.50 463.66 L679.50 463.85 L680.50 464.06 L681.50 464.26 L682.50 464.47 L683.50 464.68 L684.50 464.90 L685.50 465.12 L686.50 465.35 L687.50 465.57 L688.50 465.81 L689.50 466.06 L690.50 466.30 L691.50 466.54 L692.50 466.80 L693.50 467.07 L694.50 467.33 L695.50 467.59 L696.50 467.88 L697.50 468.16 L698.50 468.45 L699.50 468.73 L700.50 469.04 L701.50 469.35 L702.50 469.66 L703.00 469.81" stroke="#0000ff" stroke-dasharray="2.1 2.2"/>
<path d="M703.00 469.81 L703.50 469.97 L704.50 470.30 L705.50 470.64 L706.50 470.97 L707.50 471.31 L708.50 471.67 L709.50 472.03 L710.50 472.39 L711.50 472.75 L712.50 473.14 L713.50 473.53 L714.50 473.92 L715.50 474.32 L716.50 474.74 L717.50 475.16 L718.50 475.58 L719.50 476.00 L720.50 476.45 L721.50 476.91 L722.50 477.36 L723.50 477.81 L724.50 478.30 L725.50 478.79 L726.50 479.27 L727.50 479.76 L728.50 480.29 L729.50 480.81 L730.50 481.33 L731.50 481.86 L732.50 482.41 L733.50 482.97 L734.50 483.53 L735.50 484.10 L736.50 484.70 L737.50 485.29 L738.50 485.89 L739.50 486.50 L740.50 487.13 L741.50 487.77 L742.50 488.41 L743.50 489.06 L744.50 489.74 L745.50 490.42 L746.50 491.10 L747.50 491.79 L748.50 492.51 L749.50 493.24 L750.50 493.96 L751.50 494.70 L752.50 495.47 L753.50 496.24 L754.50 497.01 L755.50 497.78" stroke="#0000ff" stroke-dasharray="4.4 2.6"/>

<path d="M123.40 663.30 C123.73 663.13 124.73 662.61 125.40 662.27 C126.07 661.92 126.73 661.58 127.40 661.23 C128.07 660.89 128.73 660.54 129.40 660.20 C130.07 659.85 130.73 659.51 131.40 659.16 C132.07 658.81 132.73 658.47 133.40 658.12 C134.07 657.77 134.73 657.43 135.40 657.08 C136.07 656.73 136.73 656.38 137.40 656.03 C138.07 655.69 138.73 655.34 139.40 654.99 C140.07 654.64 140.73 654.29 141.40 653.94 C142.07 653.59 142.73 653.24 143.40 652.89 C144.07 652.54 144.73 652.19 145.40 651.84 C146.07 651.49 146.73 651.14 147.40 650.79 C148.07 650.43 148.73 650.08 149.40 649.73 C150.07 649.38 150.73 649.03 151.40 648.67 C152.07 648.32 152.73 647.97 153.40 647.61 C154.07 647.26 154.73 646.91 155.40 646.55 C156.07 646.20 156.73 645.84 157.40 645.49 C158.07 645.13 158.73 644.78 159.40 644.42 C160.07 644.07 160.73 643.71 161.40 643.36 C162.07 643.00 162.73 642.65 163.40 642.29 C164.07 641.93 164.73 641.58 165.40 641.22 C166.07 640.86 166.73 640.50 167.40 640.15 C168.07 639.79 168.73 639.43 169.40 639.07 C170.07 638.71 170.73 638.36 171.40 638.00 C172.07 637.64 172.73 637.28 173.40 636.92 C174.07 636.56 174.73 636.20 175.40 635.84 C176.07 635.48 176.73 635.12 177.40 634.76 C178.07 634.40 178.73 634.04 179.40 633.68 C180.07 633.31 180.73 632.95 181.40 632.59 C182.07 632.23 182.73 631.87 183.40 631.50 C184.07 631.14 184.73 630.78 185.40 630.42 C186.07 630.05 186.73 629.69 187.40 629.33 C188.07 628.96 188.73 628.60 189.40 628.24 C190.07 627.87 190.73 627.51 191.40 627.14 C192.07 626.78 192.73 626.41 193.40 626.05 C194.07 625.68 194.73 625.32 195.40 624.95 C196.07 624.59 196.73 624.22 197.40 623.85 C198.07 623.49 198.73 623.12 199.40 622.75 C200.07 622.39 200.73 622.02 201.40 621.65 C202.07 621.29 202.73 620.92 203.40 620.55 C204.07 620.18 204.73 619.81 205.40 619.45 C206.07 619.08 206.73 618.71 207.40 618.34 C208.07 617.97 208.73 617.60 209.40 617.23 C210.07 616.86 210.73 616.49 211.40 616.12 C212.07 615.75 212.73 615.38 213.40 615.01 C214.07 614.64 214.73 614.27 215.40 613.90 C216.07 613.53 216.73 613.16 217.40 612.79 C218.07 612.42 218.73 612.05 219.40 611.67 C220.07 611.30 220.73 610.93 221.40 610.56 C222.07 610.19 222.73 609.81 223.40 609.44 C224.07 609.07 224.73 608.70 225.40 608.32 C226.07 607.95 226.73 607.58 227.40 607.20 C228.07 606.83 228.73 606.45 229.40 606.08 C230.07 605.71 230.73 605.33 231.40 604.96 C232.07 604.58 232.73 604.21 233.40 603.83 C234.07 603.46 234.73 603.08 235.40 602.71 C236.07 602.33 236.73 601.95 237.40 601.58 C238.07 601.20 238.73 600.83 239.40 600.45 C240.07 600.07 240.73 599.70 241.40 599.32 C242.07 598.94 242.73 598.57 243.40 598.19 C244.07 597.81 244.73 597.43 245.40 597.06 C246.07 596.68 246.73 596.30 247.40 595.92 C248.07 595.54 248.73 595.17 249.40 594.79 C250.07 594.41 250.73 594.03 251.40 593.65 C252.07 593.27 252.73 592.89 253.40 592.51 C254.07 592.13 254.73 591.75 255.40 591.37 C256.07 590.99 256.73 590.61 257.40 590.23 C258.07 589.85 258.73 589.47 259.40 589.09 C260.07 588.71 260.73 588.33 261.40 587.95 C262.07 587.57 262.73 587.19 263.40 586.81 C264.07 586.43 264.73 586.04 265.40 585.66 C266.07 585.28 266.73 584.90 267.40 584.52 C268.07 584.13 268.73 583.75 269.40 583.37 C270.07 582.99 270.73 582.60 271.40 582.22 C272.07 581.84 272.73 581.46 273.40 581.07 C274.07 580.69 274.73 580.31 275.40 579.92 C276.07 579.54 276.73 579.15 277.40 578.77 C278.07 578.39 278.73 578.00 279.40 577.62 C280.07 577.23 280.73 576.85 281.40 576.46 C282.07 576.08 282.73 575.70 283.40 575.31 C284.07 574.93 284.73 574.54 285.40 574.15 C286.07 573.77 286.73 573.38 287.40 573.00 C288.07 572.61 288.73 572.23 289.40 571.84 C290.07 571.45 290.73 571.07 291.40 570.68 C292.07 570.30 292.73 569.91 293.40 569.52 C294.07 569.14 294.73 568.75 295.40 568.36 C296.07 567.98 296.73 567.59 297.40 567.20 C298.07 566.81 298.73 566.43 299.40 566.04 C300.07 565.65 300.73 565.26 301.40 564.87 C302.07 564.49 302.73 564.10 303.40 563.71 C304.07 563.32 304.73 562.93 305.40 562.55 C306.07 562.16 306.73 561.77 307.40 561.38 C308.07 560.99 308.73 560.60 309.40 560.21 C310.07 559.82 310.73 559.43 311.40 559.05 C312.07 558.66 312.73 558.27 313.40 557.88 C314.07 557.49 314.73 557.10 315.40 556.71 C316.07 556.32 316.73 555.93 317.40 555.54 C318.07 555.15 318.73 554.76 319.40 554.37 C320.07 553.98 320.73 553.59 321.40 553.19 C322.07 552.80 322.73 552.41 323.40 552.02 C324.07 551.63 324.73 551.24 325.40 550.85 C326.07 550.46 326.73 550.07 327.40 549.67 C328.07 549.28 328.73 548.89 329.40 548.50 C330.07 548.11 330.73 547.72 331.40 547.32 C332.07 546.93 332.73 546.54 333.40 546.15 C334.07 545.76 334.73 545.36 335.40 544.97 C336.07 544.58 336.73 544.19 337.40 543.79 C338.07 543.40 338.73 543.01 339.40 542.62 C340.07 542.22 340.73 541.83 341.40 541.44 C342.07 541.04 342.73 540.65 343.40 540.26 C344.07 539.86 344.73 539.47 345.40 539.08 C346.07 538.68 346.73 538.29 347.40 537.90 C348.07 537.50 348.73 537.11 349.40 536.72 C350.07 536.32 350.73 535.93 351.40 535.53 C352.07 535.14 352.73 534.74 353.40 534.35 C354.07 533.96 354.73 533.56 355.40 533.17 C356.07 532.77 356.73 532.38 357.40 531.98 C358.07 531.59 358.73 531.19 359.40 530.80 C360.07 530.41 360.73 530.01 361.40 529.62 C362.07 529.22 362.73 528.83 363.40 528.43 C364.07 528.03 364.73 527.64 365.40 527.24 C366.07 526.85 366.73 526.45 367.40 526.06 C368.07 525.66 368.73 525.27 369.40 524.87 C370.07 524.48 370.73 524.08 371.40 523.68 C372.07 523.29 372.73 522.89 373.40 522.50 C374.07 522.10 374.73 521.71 375.40 521.31 C376.07 520.91 376.73 520.52 377.40 520.12 C378.07 519.72 378.73 519.33 379.40 518.93 C380.07 518.54 380.73 518.14 381.40 517.74 C382.07 517.35 382.73 516.95 383.40 516.55 C384.07 516.16 384.73 515.76 385.40 515.36 C386.07 514.97 386.73 514.57 387.40 514.17 C388.07 513.78 388.73 513.38 389.40 512.98 C390.07 512.59 390.73 512.19 391.40 511.79 C392.07 511.40 392.73 511.00 393.40 510.60 C394.07 510.20 394.73 509.81 395.40 509.41 C396.07 509.01 396.73 508.62 397.40 508.22 C398.07 507.82 398.73 507.42 399.40 507.03 C400.07 506.63 400.73 506.23 401.40 505.83 C402.07 505.44 402.73 505.04 403.40 504.64 C404.07 504.24 404.73 503.85 405.40 503.45 C406.07 503.05 406.73 502.65 407.40 502.26 C408.07 501.86 408.73 501.46 409.40 501.06 C410.07 500.66 410.73 500.27 411.40 499.87 C412.07 499.47 412.73 499.07 413.40 498.68 C414.07 498.28 414.73 497.88 415.40 497.48 C416.07 497.08 416.73 496.69 417.40 496.29 C418.07 495.89 418.73 495.49 419.40 495.09 C420.07 494.70 420.73 494.30 421.40 493.90 C422.07 493.50 422.73 493.10 423.40 492.71 C424.07 492.31 424.73 491.91 425.40 491.51 C426.07 491.11 426.73 490.72 427.40 490.32 C428.07 489.92 428.73 489.52 429.40 489.12 C430.07 488.73 430.73 488.33 431.40 487.93 C432.07 487.53 432.73 487.13 433.40 486.73 C434.07 486.34 434.73 485.94 435.40 485.54 C436.07 485.14 436.73 484.74 437.40 484.35 C438.07 483.95 438.73 483.55 439.40 483.15 C440.07 482.75 440.73 482.35 441.40 481.96 C442.07 481.56 442.73 481.16 443.40 480.76 C444.07 480.36 444.73 479.97 445.40 479.57 C446.07 479.17 446.73 478.77 447.40 478.37 C448.07 477.98 448.73 477.58 449.40 477.18 C450.07 476.78 450.73 476.38 451.40 475.99 C452.07 475.59 452.73 475.19 453.40 474.79 C454.07 474.39 454.73 473.99 455.40 473.60 C456.07 473.20 456.73 472.80 457.40 472.40 C458.07 472.01 458.73 471.61 459.40 471.21 C460.07 470.81 460.73 470.41 461.40 470.02 C462.07 469.62 462.73 469.22 463.40 468.82 C464.07 468.42 464.73 468.03 465.40 467.63 C466.07 467.23 466.73 466.83 467.40 466.44 C468.07 466.04 468.73 465.64 469.40 465.24 C470.07 464.85 470.73 464.45 471.40 464.05 C472.07 463.65 472.73 463.26 473.40 462.86 C474.07 462.46 474.73 462.06 475.40 461.67 C476.07 461.27 476.73 460.87 477.40 460.47 C478.07 460.08 478.73 459.68 479.40 459.28 C480.07 458.89 480.73 458.49 481.40 458.09 C482.07 457.69 482.73 457.30 483.40 456.90 C484.07 456.50 484.73 456.11 485.40 455.71 C486.07 455.31 486.73 454.92 487.40 454.52 C488.07 454.12 488.73 453.72 489.40 453.33 C490.07 452.93 490.73 452.54 491.40 452.14 C492.07 451.74 492.73 451.35 493.40 450.95 C494.07 450.55 494.73 450.16 495.40 449.76 C496.07 449.36 496.73 448.97 497.40 448.57 C498.07 448.18 498.73 447.78 499.40 447.38 C500.07 446.99 500.73 446.59 501.40 446.20 C502.07 445.80 502.73 445.40 503.40 445.01 C504.07 444.61 504.73 444.22 505.40 443.82 C506.07 443.42 506.73 443.03 507.40 442.63 C508.07 442.23 508.73 441.84 509.40 441.44 C510.07 441.04 510.73 440.65 511.40 440.25 C512.07 439.85 512.73 439.45 513.40 439.05 C514.07 438.66 514.73 438.26 515.40 437.86 C516.07 437.46 516.73 437.06 517.40 436.66 C518.07 436.26 518.73 435.86 519.40 435.45 C520.07 435.05 520.73 434.65 521.40 434.25 C522.07 433.84 522.73 433.44 523.40 433.03 C524.07 432.63 524.73 432.22 525.40 431.82 C526.07 431.41 526.73 431.00 527.40 430.59 C528.07 430.18 528.73 429.77 529.40 429.36 C530.07 428.95 530.73 428.54 531.40 428.13 C532.07 427.72 532.73 427.30 533.40 426.89 C534.07 426.47 534.73 426.05 535.40 425.64 C536.07 425.22 536.73 424.80 537.40 424.38 C538.07 423.96 538.73 423.53 539.40 423.11 C540.07 422.69 540.73 422.26 541.40 421.84 C542.07 421.41 542.73 420.98 543.40 420.55 C544.07 420.12 544.73 419.69 545.40 419.26 C546.07 418.82 546.73 418.39 547.40 417.95 C548.07 417.52 548.73 417.08 549.40 416.64 C550.07 416.20 550.73 415.76 551.40 415.31 C552.07 414.87 552.73 414.42 553.40 413.97 C554.07 413.52 554.73 413.07 555.40 412.62 C556.07 412.17 556.73 411.72 557.40 411.26 C558.07 410.80 558.73 410.34 559.40 409.88 C560.07 409.42 560.73 408.96 561.40 408.49 C562.07 408.03 562.73 407.56 563.40 407.09 C564.07 406.62 564.73 406.15 565.40 405.67 C566.07 405.20 566.73 404.72 567.40 404.24 C568.07 403.76 568.73 403.27 569.40 402.79 C570.07 402.30 570.73 401.81 571.40 401.32 C572.07 400.83 572.73 400.34 573.40 399.84 C574.07 399.35 574.73 398.85 575.40 398.34 C576.07 397.84 576.73 397.34 577.40 396.83 C578.07 396.32 578.73 395.81 579.40 395.29 C580.07 394.78 580.73 394.26 581.40 393.74 C582.07 393.22 582.73 392.70 583.40 392.17 C584.07 391.64 584.73 391.11 585.40 390.58 C586.07 390.05 586.73 389.51 587.40 388.97 C588.07 388.43 588.73 387.89 589.40 387.34 C590.07 386.79 590.73 386.24 591.40 385.69 C592.07 385.14 592.73 384.58 593.40 384.02 C594.07 383.45 594.73 382.89 595.40 382.32 C596.07 381.75 596.73 381.18 597.40 380.60 C598.07 380.02 598.73 379.44 599.40 378.85 C600.07 378.27 600.73 377.68 601.40 377.09 C602.07 376.49 602.73 375.89 603.40 375.29 C604.07 374.69 604.73 374.08 605.40 373.47 C606.07 372.86 606.73 372.24 607.40 371.62 C608.07 371.00 608.73 370.37 609.40 369.74 C610.07 369.11 610.73 368.48 611.40 367.84 C612.07 367.20 612.73 366.55 613.40 365.90 C614.07 365.25 614.73 364.59 615.40 363.93 C616.07 363.27 616.73 362.61 617.40 361.94 C618.07 361.27 618.73 360.59 619.40 359.91 C620.07 359.23 620.73 358.54 621.40 357.85 C622.07 357.15 622.73 356.46 623.40 355.75 C624.07 355.05 624.73 354.34 625.40 353.62 C626.07 352.91 626.73 352.19 627.40 351.46 C628.07 350.73 628.73 350.00 629.40 349.26 C630.07 348.52 630.73 347.78 631.40 347.03 C632.07 346.27 632.73 345.52 633.40 344.75 C634.07 343.99 634.73 343.22 635.40 342.44 C636.07 341.67 636.73 340.88 637.40 340.09 C638.07 339.30 638.73 338.51 639.40 337.71 C640.07 336.90 640.73 336.09 641.40 335.28 C642.07 334.46 642.73 333.64 643.40 332.81 C644.07 331.98 644.73 331.14 645.40 330.29 C646.07 329.44 646.73 328.58 647.40 327.71 C648.07 326.84 648.73 325.96 649.40 325.07 C650.07 324.18 650.73 323.28 651.40 322.36 C652.07 321.44 652.73 320.51 653.40 319.56 C654.07 318.61 654.73 317.65 655.40 316.67 C656.07 315.69 656.73 314.69 657.40 313.68 C658.07 312.66 658.73 311.63 659.40 310.58 C660.07 309.53 660.73 308.46 661.40 307.36 C662.07 306.27 662.73 305.16 663.40 304.02 C664.07 302.89 664.73 301.73 665.40 300.55 C666.07 299.37 666.73 298.16 667.40 296.93 C668.07 295.70 668.73 294.45 669.40 293.16 C670.07 291.88 670.73 290.57 671.40 289.24 C672.07 287.90 672.73 286.53 673.40 285.14 C674.07 283.74 674.73 282.32 675.40 280.87 C676.07 279.41 676.73 277.93 677.40 276.41 C678.07 274.89 678.73 273.34 679.40 271.75 C680.07 270.17 680.73 268.55 681.40 266.90 C682.07 265.25 682.73 263.56 683.40 261.83 C684.07 260.11 684.73 258.35 685.40 256.55 C686.07 254.75 686.73 252.91 687.40 251.03 C688.07 249.16 688.73 247.24 689.40 245.28 C690.07 243.32 690.73 241.33 691.40 239.29 C692.07 237.25 692.73 235.16 693.40 233.04 C694.07 230.91 694.73 228.74 695.40 226.53 C696.07 224.31 696.73 222.05 697.40 219.74 C698.07 217.44 698.73 215.08 699.40 212.68 C700.07 210.28 700.73 207.83 701.40 205.33 C702.07 202.83 702.73 200.28 703.40 197.68 C704.07 195.08 704.73 192.44 705.40 189.73 C706.07 187.03 706.73 184.27 707.40 181.46 C708.07 178.65 708.73 175.78 709.40 172.86 C710.07 169.93 710.73 166.95 711.40 163.91 C712.07 160.87 712.73 157.77 713.40 154.60 C714.07 151.44 714.73 148.21 715.40 144.92 C716.07 141.63 716.73 138.28 717.40 134.85 C718.07 131.43 718.73 127.95 719.40 124.39 C720.07 120.83 720.73 117.21 721.40 113.51 C722.07 109.81 722.73 106.05 723.40 102.21 C724.07 98.36 724.73 94.45 725.40 90.46 C726.07 86.47 726.73 82.41 727.40 78.26 C728.07 74.12 728.73 69.90 729.40 65.60 C730.07 61.30 730.73 56.92 731.40 52.46 C732.07 47.99 732.90 42.26 733.40 38.82 C733.90 35.38 734.23 32.98 734.40 31.81" stroke="#ff0000"/>
</g>
<!-- frame + ticks -->
<path d="M123.50 43.20 H755.50 V675.10 H123.50 Z" stroke="#000" stroke-width="1.4" stroke-linejoin="miter"/>
<path d="M155.27 675.10 v-8.0 M155.27 43.20 v8.0 M177.83 675.10 v-8.0 M177.83 43.20 v8.0 M195.33 675.10 v-8.0 M195.33 43.20 v8.0 M209.63 675.10 v-8.0 M209.63 43.20 v8.0 M221.72 675.10 v-8.0 M221.72 43.20 v8.0 M232.20 675.10 v-8.0 M232.20 43.20 v8.0 M241.44 675.10 v-8.0 M241.44 43.20 v8.0 M249.70 675.10 v-16.0 M249.70 43.20 v16.0 M304.07 675.10 v-8.0 M304.07 43.20 v8.0 M335.87 675.10 v-8.0 M335.87 43.20 v8.0 M358.43 675.10 v-8.0 M358.43 43.20 v8.0 M375.93 675.10 v-8.0 M375.93 43.20 v8.0 M390.23 675.10 v-8.0 M390.23 43.20 v8.0 M402.32 675.10 v-8.0 M402.32 43.20 v8.0 M412.80 675.10 v-8.0 M412.80 43.20 v8.0 M422.04 675.10 v-8.0 M422.04 43.20 v8.0 M430.30 675.10 v-16.0 M430.30 43.20 v16.0 M484.67 675.10 v-8.0 M484.67 43.20 v8.0 M516.47 675.10 v-8.0 M516.47 43.20 v8.0 M539.03 675.10 v-8.0 M539.03 43.20 v8.0 M556.53 675.10 v-8.0 M556.53 43.20 v8.0 M570.83 675.10 v-8.0 M570.83 43.20 v8.0 M582.92 675.10 v-8.0 M582.92 43.20 v8.0 M593.40 675.10 v-8.0 M593.40 43.20 v8.0 M602.64 675.10 v-8.0 M602.64 43.20 v8.0 M610.90 675.10 v-16.0 M610.90 43.20 v16.0 M665.27 675.10 v-8.0 M665.27 43.20 v8.0 M697.07 675.10 v-8.0 M697.07 43.20 v8.0 M719.63 675.10 v-8.0 M719.63 43.20 v8.0 M737.13 675.10 v-8.0 M737.13 43.20 v8.0 M751.43 675.10 v-8.0 M751.43 43.20 v8.0 M123.50 618.00 h16.0 M755.50 618.00 h-16.0 M123.50 546.15 h16.0 M755.50 546.15 h-16.0 M123.50 474.30 h16.0 M755.50 474.30 h-16.0 M123.50 402.45 h16.0 M755.50 402.45 h-16.0 M123.50 330.60 h16.0 M755.50 330.60 h-16.0 M123.50 258.75 h16.0 M755.50 258.75 h-16.0 M123.50 186.90 h16.0 M755.50 186.90 h-16.0 M123.50 115.05 h16.0 M755.50 115.05 h-16.0 " stroke="#000" stroke-width="1.2"/>
<!-- y tick labels -->
<text transform="translate(72.30,52.60) scale(1.130,1)" class="t25" textLength="24.07" lengthAdjust="spacing">10</text><text transform="translate(105.30,45.10) scale(1.12,1)" text-anchor="middle" class="t15 sb">5</text><text transform="translate(72.30,124.45) scale(1.130,1)" class="t25" textLength="24.07" lengthAdjust="spacing">10</text><text transform="translate(105.30,116.95) scale(1.12,1)" text-anchor="middle" class="t15 sb">4</text><text transform="translate(72.30,196.30) scale(1.130,1)" class="t25" textLength="24.07" lengthAdjust="spacing">10</text><text transform="translate(105.30,188.80) scale(1.12,1)" text-anchor="middle" class="t15 sb">3</text><text transform="translate(72.30,268.15) scale(1.130,1)" class="t25" textLength="24.07" lengthAdjust="spacing">10</text><text transform="translate(105.30,260.65) scale(1.12,1)" text-anchor="middle" class="t15 sb">2</text><text transform="translate(72.30,340.00) scale(1.130,1)" class="t25" textLength="24.07" lengthAdjust="spacing">10</text><text transform="translate(105.30,332.50) scale(1.12,1)" text-anchor="middle" class="t15 sb">1</text><text transform="translate(102.50,411.65) scale(1.1,1)" text-anchor="middle" class="t25">1</text><text transform="translate(60.60,483.70) scale(1.130,1)" class="t25" textLength="24.07" lengthAdjust="spacing">10</text><text x="91.00" y="476.20" class="t15 sb" textLength="17.8" lengthAdjust="spacing">−1</text><text transform="translate(60.60,555.55) scale(1.130,1)" class="t25" textLength="24.07" lengthAdjust="spacing">10</text><text x="91.00" y="548.05" class="t15 sb" textLength="17.8" lengthAdjust="spacing">−2</text><text transform="translate(60.60,627.40) scale(1.130,1)" class="t25" textLength="24.07" lengthAdjust="spacing">10</text><text x="91.00" y="619.90" class="t15 sb" textLength="17.8" lengthAdjust="spacing">−3</text>
<!-- x tick labels -->
<text transform="translate(235.40,704.90) scale(1.180,1)" class="t25" textLength="25.00" lengthAdjust="spacing">10</text>
<text transform="translate(408.70,704.90) scale(1.180,1)" class="t25" textLength="37.37" lengthAdjust="spacing">100</text>
<text transform="translate(581.60,704.90) scale(1.180,1)" class="t25" textLength="50.34" lengthAdjust="spacing">1000</text>
<!-- x label -->
<text transform="translate(369.50,734.20) scale(1.170,1.06)" class="t24" textLength="103.16" lengthAdjust="spacing">multipole</text>
<text x="506.3" y="734.4" text-anchor="middle" class="t24 bi">l</text>
<!-- y label -->
<g transform="translate(37.7,483.5) rotate(-90)">
<text x="3.6" y="0" text-anchor="middle" class="t24 bi">l</text>
<text x="13.2" y="0" text-anchor="middle" class="t28">(</text>
<text x="22.0" y="0" text-anchor="middle" class="t24 bi">l</text>
<text transform="translate(33.8,1.5) scale(1.25,1.25)" text-anchor="middle" class="t24">+</text>
<text transform="translate(51,0) scale(1.1,1)" text-anchor="middle" class="t24">1</text>
<text x="63.2" y="0" text-anchor="middle" class="t28">)</text>
<path d="M71.3 5.3 L85.0 -18.7" stroke="#000" stroke-width="1.5"/>
<text transform="translate(95.3,0) scale(1.2,1)" text-anchor="middle" class="t24">2</text>
<text x="110.2" y="0" text-anchor="middle" class="t24">π</text>
<text transform="translate(136.3,0) scale(0.92,1)" text-anchor="middle" class="t24">C</text>
<text x="146.8" y="8.8" text-anchor="middle" class="t14 bi" style="stroke-width:0.5px">l</text>
<text x="166.8" y="0" text-anchor="middle" class="t28">[</text>
<text x="178" y="0" text-anchor="middle" class="t28">(</text>
<text transform="translate(191.5,0) scale(1.15,1)" text-anchor="middle" class="t24 it">μ</text>
<text transform="translate(207,0) scale(0.88,1)" text-anchor="middle" class="t24">K</text>
<text x="219.6" y="0" text-anchor="middle" class="t28">)</text>
<text x="230.2" y="-6.2" text-anchor="middle" class="t15 sb">2</text>
<text x="239.9" y="0" text-anchor="middle" class="t28">]</text>
</g>
<!-- curve labels -->
<text transform="translate(248,212.5) rotate(22.5)" class="lb" textLength="160.8" lengthAdjust="spacingAndGlyphs" style="word-spacing:4px">VIBRATING DUST</text>
<text transform="translate(159.3,404.0) rotate(25.15)" class="lb" style="font-size:20px" textLength="115" lengthAdjust="spacingAndGlyphs">FREE−FREE</text>
<text transform="translate(394.4,600.8) rotate(8.6)" class="lb" textLength="140.5" lengthAdjust="spacingAndGlyphs">SYNCHROTRON</text>
<text x="467.3" y="259" class="lb bl" textLength="128.5" lengthAdjust="spacingAndGlyphs">CORRELATION</text>
<text transform="translate(503.8,423.3) rotate(-37.7)" class="lb bl" textLength="80" lengthAdjust="spacingAndGlyphs">POISSON</text>
<text x="575.1" y="474.1" class="lb bl" textLength="66.3" lengthAdjust="spacingAndGlyphs">SPIRAL</text>
<text x="563.1" y="495.8" class="lb bl" textLength="88.3" lengthAdjust="spacingAndGlyphs">GALAXIES</text>
<text transform="translate(692.7,201.6) rotate(-77.7)" class="lb rd" textLength="140.5" lengthAdjust="spacingAndGlyphs" style="word-spacing:3px">PLANCK NOISE</text>
</svg>
</body></html>
